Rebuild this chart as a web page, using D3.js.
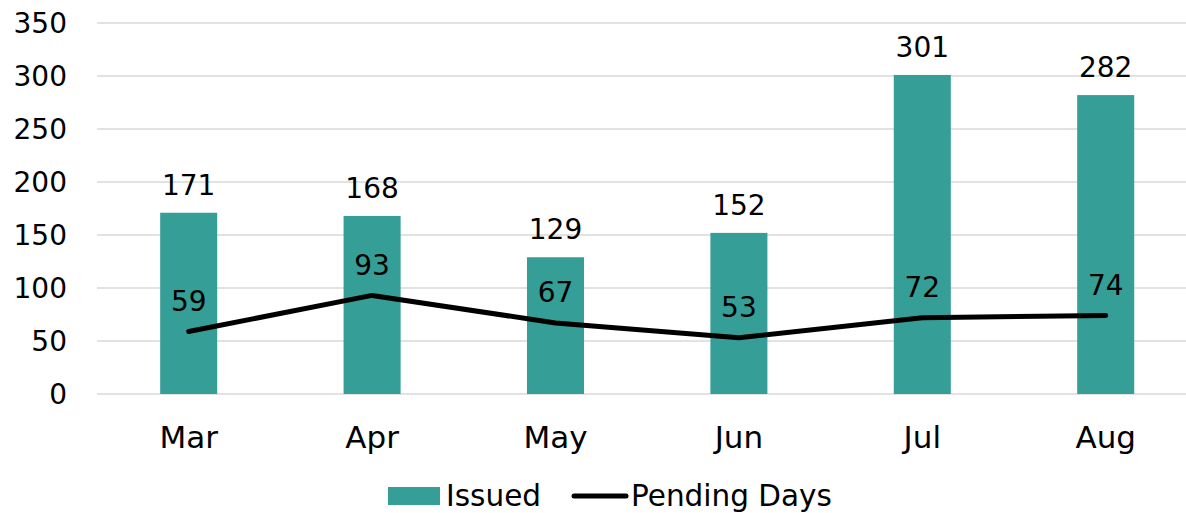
<!DOCTYPE html>
<html><head><meta charset="utf-8">
<script src="https://cdn.jsdelivr.net/npm/d3@7"></script>
<style>body{margin:0;background:#fff;}svg{display:block;font-family:"DejaVu Sans",sans-serif;}</style>
</head><body>
<svg id="c" width="1186" height="513"></svg>
<script>
const categories = ["Mar","Apr","May","Jun","Jul","Aug"];
const issued = [171,168,129,152,301,282];
const pendingDays = [59,93,67,53,72,74];
const yTicks = [0,50,100,150,200,250,300,350];
const seriesNames = ["Issued","Pending Days"];

(function(){
const svg = d3.select("#c");
const teal = "#359E96";
const pLeft = 97, pRight = 1197.4, pTop = 23, pBottom = 394;
const x = d3.scaleBand().domain(categories).range([pLeft, pRight]).paddingInner(0.689).paddingOuter(0.3445);
const y = d3.scaleLinear().domain([0,350]).range([pBottom, pTop]);
const fs = 28, fsText = 31, fsLeg = 29.5;

svg.append("g").selectAll("line").data(yTicks).join("line")
  .attr("x1", pLeft).attr("x2", 1186)
  .attr("y1", d => y(d)).attr("y2", d => y(d))
  .attr("stroke", "#d9d9d9").attr("stroke-width", 1.5);

svg.append("g").selectAll("text").data(yTicks).join("text")
  .attr("x", 67).attr("y", d => y(d)).attr("dy", "0.36em")
  .attr("text-anchor", "end").attr("font-size", fs).attr("fill", "#000")
  .text(d => d);

svg.append("g").selectAll("rect").data(categories).join("rect")
  .attr("x", d => x(d)).attr("width", x.bandwidth())
  .attr("y", (d,i) => y(issued[i])).attr("height", (d,i) => y(0) - y(issued[i]))
  .attr("fill", teal);

svg.append("g").selectAll("text").data(categories).join("text")
  .attr("x", d => x(d) + x.bandwidth()/2).attr("y", (d,i) => y(issued[i]) - 28)
  .attr("dy", "0.36em").attr("text-anchor", "middle").attr("font-size", fs)
  .text((d,i) => issued[i]);

const cx = d => x(d) + x.bandwidth()/2;
const line = d3.line().x((d,i) => cx(categories[i])).y(d => y(d));
svg.append("path").datum(pendingDays).attr("d", line)
  .attr("fill", "none").attr("stroke", "#000").attr("stroke-width", 5)
  .attr("stroke-linecap", "round").attr("stroke-linejoin", "round");

svg.append("g").selectAll("text").data(pendingDays).join("text")
  .attr("x", (d,i) => cx(categories[i])).attr("y", d => y(d) - 31)
  .attr("dy", "0.36em").attr("text-anchor", "middle").attr("font-size", fs)
  .text(d => d);

svg.append("g").selectAll("text").data(categories).join("text")
  .attr("x", d => cx(d)).attr("y", 437).attr("dy", "0.36em")
  .attr("text-anchor", "middle").attr("font-size", fsText)
  .text(d => d);

const lg = svg.append("g");
lg.append("rect").attr("x", 388).attr("y", 487).attr("width", 52).attr("height", 18).attr("fill", teal);
lg.append("text").attr("x", 446).attr("y", 495).attr("dy", "0.36em").attr("font-size", fsLeg).text(seriesNames[0]);
lg.append("line").attr("x1", 574).attr("x2", 626).attr("y1", 496).attr("y2", 496)
  .attr("stroke", "#000").attr("stroke-width", 5).attr("stroke-linecap", "round");
lg.append("text").attr("x", 631).attr("y", 495).attr("dy", "0.36em").attr("font-size", fsLeg).text(seriesNames[1]);
})();
</script>
</body></html>
